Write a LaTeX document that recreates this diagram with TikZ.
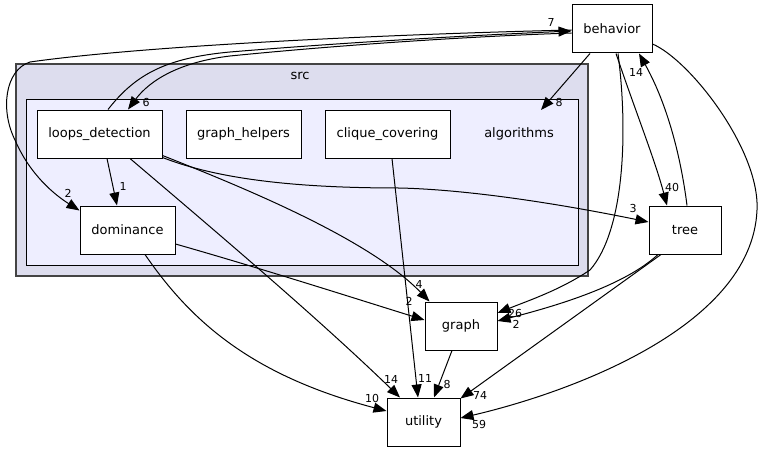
\documentclass[tikz,border=0pt]{standalone}
\usepackage{fontspec}
\setmainfont{DejaVu Sans}
\usetikzlibrary{arrows.meta,calc}
\definecolor{srcfill}{HTML}{DDDDEE}
\definecolor{algfill}{HTML}{EEEEFF}
\definecolor{srcline}{HTML}{444444}
\begin{document}
\begin{tikzpicture}[x=1pt,y=-1pt,
  dirbox/.style={draw=black,fill=white,line width=1pt,inner sep=0pt,
    font=\fontsize{13}{15}\selectfont},
  clabel/.style={inner sep=0pt,font=\fontsize{13}{15}\selectfont},
  elabel/.style={inner sep=0pt,font=\fontsize{11}{13}\selectfont},
  dep/.style={draw=black,line width=1pt,-{Triangle[length=13pt,width=10pt]}},
]
\useasboundingbox (0,0) rectangle (762,452);
% clusters
\node[draw=srcline,fill=srcfill,line width=1.6pt,minimum width=572pt,minimum height=212pt,inner sep=0pt] (src) at (302,170) {};
\node[clabel] (srclab) at (300,76) {src};
\node[draw=black,fill=algfill,line width=1pt,minimum width=552pt,minimum height=166pt,inner sep=0pt] (alg) at (302,182) {};
\node[clabel] (alglab) at (519,134) {algorithms};
% nodes
\node[dirbox,minimum width=80pt,minimum height=48pt] (beh) at (612,29) {behavior};
\node[dirbox,minimum width=125pt,minimum height=48pt] (ld) at (99.5,134) {loops\_detection};
\node[dirbox,minimum width=115pt,minimum height=48pt] (gh) at (243.5,134) {graph\_helpers};
\node[dirbox,minimum width=125pt,minimum height=48pt] (cc) at (387.5,134) {clique\_covering};
\node[dirbox,minimum width=95pt,minimum height=48pt] (dom) at (127.5,230) {dominance};
\node[dirbox,minimum width=72pt,minimum height=48pt] (tree) at (685,230) {tree};
\node[dirbox,minimum width=72pt,minimum height=48pt] (graph) at (461,326) {graph};
\node[dirbox,minimum width=73pt,minimum height=48pt] (util) at (423.5,422) {utility};
\coordinate (algin) at (541,110);
% edges
\draw[dep] ($(beh.west)+(0,1)$) .. controls (400,34) and (150,45) .. (30,62) .. controls (5,70) and (0,110) .. (15,140) .. controls (30,175) and (55,195) .. ($(dom.north west)+(0,5)$);
\draw[dep] ($(ld.north)+(8.5,0)$) .. controls (135,75) and (165,58) .. (230,52) .. controls (350,42) and (480,35) .. ($(beh.west)+(0,2)$);
\draw[dep] ($(beh.west)+(0,4)$) .. controls (480,36) and (350,44) .. (230,56) .. controls (180,62) and (150,80) .. ($(ld.north)+(28.5,0)$);
\draw[dep] ($(beh.south)+(-22,0)$) -- (algin);
\draw[dep] ($(beh.south)+(4,0)$) .. controls (635,110) and (655,160) .. ($(tree.north)+(-18,0)$);
\draw[dep] ($(tree.north)+(2,0)$) .. controls (680,150) and (665,100) .. ($(beh.south)+(27,0)$);
\draw[dep] ($(beh.south)+(6,0)$) .. controls (628,130) and (625,230) .. (590,270) .. controls (560,290) and (530,300) .. ($(graph.east)+(0,-13)$);
\draw[dep] ($(beh.east)+(0,15)$) .. controls (690,60) and (760,150) .. (757,210) .. controls (752,330) and (560,395) .. ($(util.east)+(0,-4)$);
\draw[dep] ($(tree.south)+(-27,0)$) .. controls (625,285) and (560,305) .. ($(graph.east)+(0,-5)$);
\draw[dep] ($(tree.south)+(-24,0)$) -- ($(util.north east)+(0,1)$);
\draw[dep] ($(ld.south east)+(0,-1)$) .. controls (220,180) and (300,188) .. (400,188) .. controls (480,190) and (580,208) .. ($(tree.west)+(0,-8)$);
\draw[dep] ($(ld.south east)+(0,-3)$) .. controls (250,190) and (370,240) .. ($(graph.north west)+(5,0)$);
\draw[dep] ($(ld.south)+(30.5,0)$) .. controls (220,235) and (320,320) .. ($(util.north)+(-23.5,0)$);
\draw[dep] ($(ld.south)+(7.5,0)$) -- ($(dom.north)+(-10.5,0)$);
\draw[dep] ($(cc.south)+(4.5,0)$) -- ($(util.north)+(-5.5,0)$);
\draw[dep] ($(dom.east)+(0,14)$) .. controls (260,268) and (360,300) .. ($(graph.west)+(0,-6)$);
\draw[dep] ($(dom.south)+(17.5,0)$) .. controls (190,320) and (250,375) .. ($(util.west)+(0,-11)$);
\draw[dep] ($(graph.south)+(-9,0)$) -- ($(util.north)+(10.5,0)$);
% edge labels
\node[elabel] (l7) at (551,22) {7};
\node[elabel] (l6) at (146,102) {6};
\node[elabel] (l2a) at (68,193) {2};
\node[elabel] (l1) at (123,186) {1};
\node[elabel] (l8a) at (559,102) {8};
\node[elabel] (l14a) at (636,72) {14};
\node[elabel] (l40) at (672,187) {40};
\node[elabel] (l3) at (633,208) {3};
\node[elabel] (l26) at (515,313) {26};
\node[elabel] (l2b) at (516,324) {2};
\node[elabel] (l4) at (419,284) {4};
\node[elabel] (l2c) at (409,301) {2};
\node[elabel] (l14b) at (391,379) {14};
\node[elabel] (l11) at (425,378) {11};
\node[elabel] (l8b) at (447,384) {8};
\node[elabel] (l74) at (480,395) {74};
\node[elabel] (l59) at (479,424) {59};
\node[elabel] (l10) at (372,398) {10};
\end{tikzpicture}
\end{document}
